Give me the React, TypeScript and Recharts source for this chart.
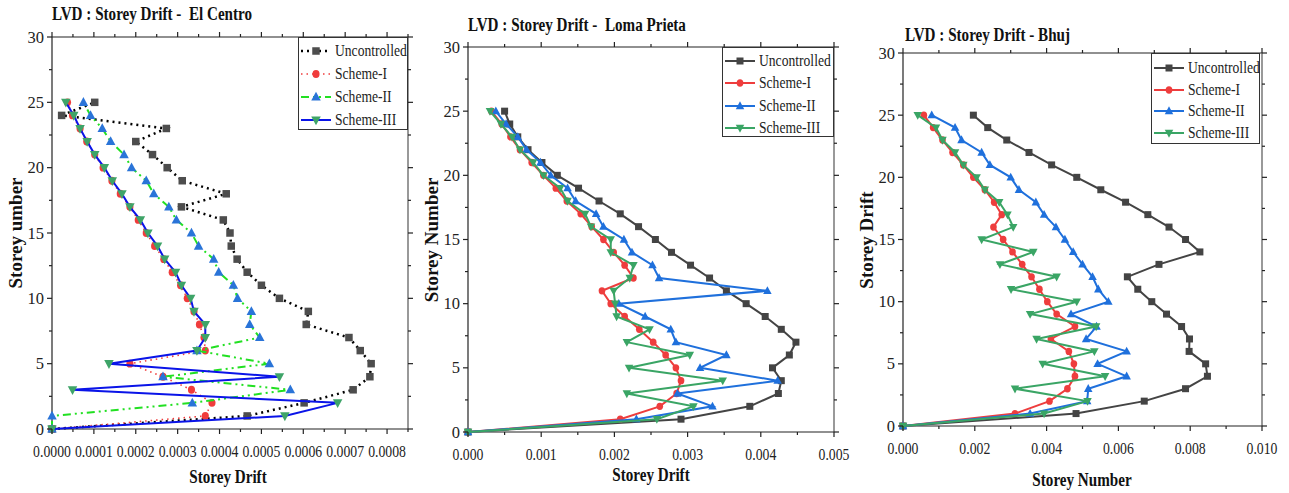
import React from "react";
import { ScatterChart, Scatter, XAxis, YAxis, ReferenceLine } from "recharts";

const SERIF = "'Liberation Serif', 'Times New Roman', serif";

// storey numbers, 0 (ground) to 25
const storeys = [0, 1, 2, 3, 4, 5, 6, 7, 8, 9, 10, 11, 12, 13, 14, 15, 16, 17, 18, 19, 20, 21, 22, 23, 24, 25];

// El Centro drift, storey 0..25
const elCentroUncontrolled = [0, 0.000466, 0.000602, 0.000719, 0.000759, 0.000762, 0.000736, 0.000709, 0.000607, 0.000612, 0.000543, 0.0005, 0.000466, 0.000442, 0.000428, 0.000425, 0.000409, 0.000309, 0.000416, 0.000311, 0.000275, 0.00024, 0.0002, 0.000273, 0.000023, 0.000102];
const elCentroScheme1 = [0, 0.000366, 0.000382, 0.000333, 0.000265, 0.000186, 0.000366, 0.000363, 0.000352, 0.000339, 0.000323, 0.000307, 0.000287, 0.000267, 0.000245, 0.000225, 0.000206, 0.000186, 0.000163, 0.000143, 0.000122, 0.000102, 0.000083, 0.000067, 0.000049, 0.000037];
const elCentroScheme2 = [0, 0, 0.000335, 0.000569, 0.000265, 0.000519, 0.000346, 0.000496, 0.000472, 0.000476, 0.000443, 0.000433, 0.000398, 0.000386, 0.00035, 0.000333, 0.000297, 0.000279, 0.000243, 0.000225, 0.00019, 0.000172, 0.00014, 0.00012, 0.000092, 0.000075];
const elCentroScheme3 = [0, 0.000556, 0.000682, 0.000049, 0.000543, 0.000136, 0.000346, 0.000366, 0.000366, 0.000339, 0.000331, 0.000309, 0.000295, 0.000269, 0.000252, 0.000229, 0.000211, 0.000186, 0.000167, 0.000144, 0.000125, 0.000102, 0.000084, 0.000067, 0.000052, 0.000033];

// Loma Prieta drift, storey 0..25
const lomaUncontrolled = [0, 0.00291, 0.00385, 0.00424, 0.00428, 0.00416, 0.00439, 0.00448, 0.00428, 0.00406, 0.0038, 0.00353, 0.0033, 0.00304, 0.00278, 0.00256, 0.00233, 0.00208, 0.00179, 0.00151, 0.00122, 0.00101, 0.00082, 0.00068, 0.00057, 0.0005];
const lomaScheme1 = [0, 0.00208, 0.00262, 0.00285, 0.00291, 0.00284, 0.0027, 0.00253, 0.00234, 0.00214, 0.00195, 0.00183, 0.00226, 0.00214, 0.00199, 0.00185, 0.00169, 0.00154, 0.00135, 0.0012, 0.00103, 0.00087, 0.00071, 0.00058, 0.00046, 0.00032];
const lomaScheme2 = [0, 0.0023, 0.00334, 0.00286, 0.00423, 0.00317, 0.00353, 0.00284, 0.00277, 0.00242, 0.00206, 0.00409, 0.00261, 0.00252, 0.00224, 0.00213, 0.00185, 0.00175, 0.00147, 0.00136, 0.00113, 0.00099, 0.0008, 0.00068, 0.00052, 0.00038];
const lomaScheme3 = [0, 0.00258, 0.00308, 0.00217, 0.00348, 0.0022, 0.00303, 0.00217, 0.00248, 0.00203, 0.00201, 0.00199, 0.00221, 0.00226, 0.00195, 0.00195, 0.00168, 0.0016, 0.00136, 0.00126, 0.00103, 0.00089, 0.00071, 0.0006, 0.00045, 0.0003];

// Bhuj drift, storey 0..25
const bhujUncontrolled = [0, 0.00482, 0.00672, 0.00787, 0.00848, 0.00843, 0.00797, 0.00798, 0.00776, 0.00734, 0.00693, 0.00654, 0.00625, 0.00713, 0.00827, 0.00787, 0.00741, 0.00682, 0.0062, 0.00551, 0.00484, 0.00414, 0.00351, 0.00289, 0.00236, 0.00196];
const bhujScheme1 = [0, 0.00312, 0.00408, 0.00458, 0.00479, 0.00476, 0.00462, 0.00412, 0.00479, 0.00428, 0.00402, 0.0038, 0.00358, 0.00332, 0.00305, 0.00279, 0.00252, 0.00275, 0.00254, 0.00228, 0.00196, 0.00168, 0.00138, 0.0011, 0.00084, 0.00058];
const bhujScheme2 = [0, 0.00354, 0.00513, 0.00516, 0.00623, 0.00542, 0.00623, 0.0051, 0.00539, 0.00468, 0.00572, 0.00544, 0.00528, 0.005, 0.00474, 0.00451, 0.00426, 0.00393, 0.0037, 0.00323, 0.003, 0.00242, 0.00219, 0.00163, 0.00145, 0.0008];
const bhujScheme3 = [0, 0.00393, 0.00514, 0.00312, 0.00563, 0.00389, 0.00533, 0.00372, 0.00538, 0.00354, 0.00484, 0.00301, 0.00428, 0.0027, 0.00363, 0.00219, 0.00307, 0.00291, 0.00268, 0.00228, 0.00205, 0.00168, 0.00145, 0.0011, 0.00092, 0.00041];

// axis ticks (major + minor)
const storeyTicks = [0, 2.5, 5, 7.5, 10, 12.5, 15, 17.5, 20, 22.5, 25, 27.5, 30];
const elCentroTicks = [0, 0.00005, 0.0001, 0.00015, 0.0002, 0.00025, 0.0003, 0.00035, 0.0004, 0.00045, 0.0005, 0.00055, 0.0006, 0.00065, 0.0007, 0.00075, 0.0008, 0.00085];
const lomaTicks = [0, 0.0005, 0.001, 0.0015, 0.002, 0.0025, 0.003, 0.0035, 0.004, 0.0045, 0.005];
const bhujTicks = [0, 0.001, 0.002, 0.003, 0.004, 0.005, 0.006, 0.007, 0.008, 0.009, 0.01];

const seriesNames = ["Uncontrolled", "Scheme-I", "Scheme-II", "Scheme-III"];

type MarkerKind = "square" | "circle" | "up" | "down";

type SeriesStyle = {
  marker: MarkerKind;
  markerColor: string;
  lineColor: string;
  lineWidth: number;
  dash?: string;
  size: number;
};

function drawMarker(kind: MarkerKind, cx: number, cy: number, size: number, fill: string) {
  const h = size / 2;
  if (kind === "square") return <rect x={cx - h} y={cy - h} width={size} height={size} fill={fill} />;
  if (kind === "circle") return <ellipse cx={cx} cy={cy} rx={h * 0.95} ry={h * 1.05} fill={fill} />;
  if (kind === "up")
    return <polygon points={`${cx},${cy - h * 1.1} ${cx - h},${cy + h * 0.75} ${cx + h},${cy + h * 0.75}`} fill={fill} />;
  return <polygon points={`${cx},${cy + h * 1.1} ${cx - h},${cy - h * 0.75} ${cx + h},${cy - h * 0.75}`} fill={fill} />;
}

const markerShape = (s: SeriesStyle) => (props: any) => {
  const { cx, cy } = props;
  if (cx == null || cy == null) return <g />;
  return drawMarker(s.marker, cx, cy, s.size, s.markerColor);
};

const isMajor = (v: number, step: number) => Math.abs(v / step - Math.round(v / step)) < 1e-6;

// the source image is squeezed sideways, so horizontal text is narrowed a bit
const makeXTick = (plotTop: number, step: number, digits: number) => (props: any) => {
  const { x, y, payload } = props;
  const v = payload.value as number;
  const major = isMajor(v, step);
  const len = major ? 5 : 3;
  return (
    <g>
      <line x1={x} y1={y} x2={x} y2={y + len} stroke="#222" strokeWidth={1.2} />
      <line x1={x} y1={plotTop} x2={x} y2={plotTop - len} stroke="#222" strokeWidth={1.2} />
      {major && (
        <text
          transform={`translate(${x} ${y + 27.5}) scale(0.86 1)`}
          textAnchor="middle"
          fontSize={16}
          fontFamily={SERIF}
          fill="#222"
        >
          {v.toFixed(digits)}
        </text>
      )}
    </g>
  );
};

const makeYTick = (plotRight: number) => (props: any) => {
  const { x, y, payload } = props;
  const v = payload.value as number;
  const major = isMajor(v, 5);
  const len = major ? 5 : 3;
  return (
    <g>
      <line x1={x} y1={y} x2={x - len} y2={y} stroke="#222" strokeWidth={1.2} />
      <line x1={plotRight} y1={y} x2={plotRight + len} y2={y} stroke="#222" strokeWidth={1.2} />
      {major && (
        <text x={x - 8} y={y + 5.5} textAnchor="end" fontSize={16.5} fontFamily={SERIF} fill="#222">
          {v}
        </text>
      )}
    </g>
  );
};

const elCentroStyles: SeriesStyle[] = [
  { marker: "square", markerColor: "#4d4d4d", lineColor: "#000", lineWidth: 2.5, dash: "2 4", size: 7.5 },
  { marker: "circle", markerColor: "#f03c3c", lineColor: "#f03c3c", lineWidth: 1.6, dash: "1.5 4", size: 7.5 },
  { marker: "up", markerColor: "#2a74d8", lineColor: "#22e022", lineWidth: 2, dash: "8 4 2 4 2 4", size: 9.5 },
  { marker: "down", markerColor: "#3ea468", lineColor: "#0a14e8", lineWidth: 2, size: 9.5 },
];

const solidStyles: SeriesStyle[] = [
  { marker: "square", markerColor: "#444", lineColor: "#444", lineWidth: 2, size: 7 },
  { marker: "circle", markerColor: "#ee3d3d", lineColor: "#ee3d3d", lineWidth: 2, size: 7 },
  { marker: "up", markerColor: "#1f70dc", lineColor: "#1f70dc", lineWidth: 2, size: 8.5 },
  { marker: "down", markerColor: "#3aa565", lineColor: "#3aa565", lineWidth: 2, size: 8.5 },
];

type PanelProps = {
  left: number;
  width: number;
  plot: { top: number; right: number; bottom: number; left: number };
  xMax: number;
  xTicks: number[];
  step: number;
  digits: number;
  values: number[][];
  styles: SeriesStyle[];
};

// plot = distances from the panel edges to the plotting frame
function Panel({ left, width, plot, xMax, xTicks, step, digits, values, styles }: PanelProps) {
  const height = 493;
  const plotTop = plot.top;
  const plotRight = width - plot.right;
  // axes take 1px each (recharts skips drawing zero-sized axes)
  const margin = { top: plot.top, right: plot.right, bottom: plot.bottom - 1, left: plot.left - 1 };
  return (
    <div style={{ position: "absolute", left, top: 0, width, height }}>
      <ScatterChart width={width} height={height} margin={margin}>
        <XAxis
          type="number"
          dataKey="drift"
          domain={[0, xMax]}
          ticks={xTicks}
          interval={0}
          height={1}
          tickLine={false}
          tickSize={0}
          tickMargin={0}
          axisLine={{ stroke: "#222", strokeWidth: 1.2 }}
          tick={makeXTick(plotTop, step, digits)}
        />
        <YAxis
          type="number"
          dataKey="storey"
          domain={[0, 30]}
          ticks={storeyTicks}
          interval={0}
          width={1}
          tickLine={false}
          tickSize={0}
          tickMargin={0}
          axisLine={{ stroke: "#222", strokeWidth: 1.2 }}
          tick={makeYTick(plotRight)}
        />
        <ReferenceLine y={30} stroke="#222" strokeWidth={1.2} />
        <ReferenceLine x={xMax} stroke="#555" strokeWidth={1.2} />
        {values.map((vals, i) => {
          const s = styles[i];
          const rows = storeys.map((st, k) => ({ storey: st, drift: vals[k] }));
          return (
            <Scatter
              key={seriesNames[i]}
              name={seriesNames[i]}
              data={rows}
              fill={s.markerColor}
              shape={markerShape(s)}
              line={{ stroke: s.lineColor, strokeWidth: s.lineWidth, strokeDasharray: s.dash }}
              isAnimationActive={false}
            />
          );
        })}
      </ScatterChart>
    </div>
  );
}

function LegendBox({ x, y, w, h, rowTop, rowGap, styles }: { x: number; y: number; w: number; h: number; rowTop: number; rowGap: number; styles: SeriesStyle[] }) {
  return (
    <div
      style={{
        position: "absolute",
        left: x,
        top: y,
        width: w,
        height: h,
        border: "1.5px solid #333",
        background: "#fff",
        boxSizing: "border-box",
      }}
    >
      {styles.map((s, i) => (
        <div
          key={seriesNames[i]}
          style={{ position: "absolute", left: 1, top: rowTop + i * rowGap - 9, height: 18, display: "flex", alignItems: "center" }}
        >
          <svg width={32} height={14}>
            <line x1={1} y1={7} x2={31} y2={7} stroke={s.lineColor} strokeWidth={s.lineWidth} strokeDasharray={s.dash} />
            {drawMarker(s.marker, 16, 7, s.size, s.markerColor)}
          </svg>
          <span
            style={{
              display: "inline-block",
              fontSize: 17,
              lineHeight: "18px",
              marginLeft: 3,
              fontFamily: SERIF,
              color: "#222",
              whiteSpace: "nowrap",
              transform: "scaleX(0.8)",
              transformOrigin: "left center",
            }}
          >
            {seriesNames[i]}
          </span>
        </div>
      ))}
    </div>
  );
}

const textBase: React.CSSProperties = { position: "absolute", fontFamily: SERIF, fontWeight: "bold", color: "#111", whiteSpace: "pre" };

function Title({ x, y, text }: { x: number; y: number; text: string }) {
  return (
    <div
      style={{
        ...textBase,
        left: x,
        top: y,
        fontSize: 18,
        lineHeight: "18px",
        transform: "translateY(-50%) scaleX(0.84)",
        transformOrigin: "left center",
      }}
    >
      {text}
    </div>
  );
}

function XLabel({ x, y, text }: { x: number; y: number; text: string }) {
  return (
    <div style={{ ...textBase, left: x, top: y, fontSize: 18, lineHeight: "18px", transform: "translate(-50%, -50%) scaleX(0.84)" }}>
      {text}
    </div>
  );
}

function YLabel({ x, y, text }: { x: number; y: number; text: string }) {
  return (
    <div style={{ ...textBase, left: x, top: y, fontSize: 19, lineHeight: "20px", transform: "translate(-50%, -50%) rotate(-90deg)" }}>
      {text}
    </div>
  );
}

export default function App() {
  return (
    <div style={{ position: "absolute", left: 0, top: 0, width: 1289, height: 493, background: "#fff", overflow: "hidden" }}>
      <Panel
        left={0}
        width={420}
        plot={{ top: 37, right: 12, bottom: 64, left: 52 }}
        xMax={0.00085}
        xTicks={elCentroTicks}
        step={0.0001}
        digits={4}
        values={[elCentroUncontrolled, elCentroScheme1, elCentroScheme2, elCentroScheme3]}
        styles={elCentroStyles}
      />
      <Panel
        left={420}
        width={430}
        plot={{ top: 47, right: 16, bottom: 61, left: 48 }}
        xMax={0.005}
        xTicks={lomaTicks}
        step={0.001}
        digits={3}
        values={[lomaUncontrolled, lomaScheme1, lomaScheme2, lomaScheme3]}
        styles={solidStyles}
      />
      <Panel
        left={850}
        width={439}
        plot={{ top: 53, right: 27, bottom: 67, left: 53 }}
        xMax={0.01}
        xTicks={bhujTicks}
        step={0.002}
        digits={3}
        values={[bhujUncontrolled, bhujScheme1, bhujScheme2, bhujScheme3]}
        styles={solidStyles}
      />

      <LegendBox x={298} y={37} w={110} h={93} rowTop={13} rowGap={23} styles={elCentroStyles} />
      <LegendBox x={722} y={47} w={112} h={90} rowTop={13} rowGap={22.3} styles={solidStyles} />
      <LegendBox x={1151} y={53} w={109} h={91} rowTop={14} rowGap={21.5} styles={solidStyles} />

      <Title x={52} y={14} text="LVD : Storey Drift -  El Centro" />
      <Title x={468} y={25} text="LVD : Storey Drift -  Loma Prieta" />
      <Title x={905} y={35} text="LVD : Storey Drift - Bhuj" />

      <XLabel x={228} y={477} text="Storey Drift" />
      <XLabel x={651} y={475} text="Storey Drift" />
      <XLabel x={1082} y={480} text="Storey Number" />

      <YLabel x={16} y={233} text="Storey umber" />
      <YLabel x={432} y={240} text="Storey Number" />
      <YLabel x={867} y={240} text="Storey Drift" />
    </div>
  );
}
